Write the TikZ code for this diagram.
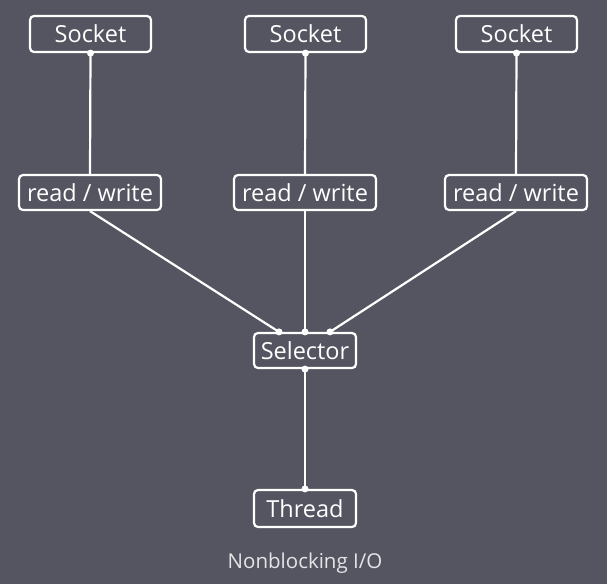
\documentclass[tikz,border=0pt]{standalone}
\usepackage{fontspec}
\setmainfont{Open Sans}
\definecolor{bg}{HTML}{545560}
\begin{document}
\begin{tikzpicture}[x=1pt,y=-1pt,
  box/.style={draw=white,line width=2.2pt,rounded corners=4pt,fill=bg,text=white,font=\fontsize{23.5}{27}\selectfont,inner sep=0pt,anchor=center},
  ln/.style={white,line width=2.2pt},
  dot/.style={circle,fill=white,inner sep=0pt,minimum size=7pt}]
\fill[bg] (0,0) rectangle (607,584);
\useasboundingbox (0,0) rectangle (607,584);
\node[box,minimum width=121pt,minimum height=36pt] (s1) at (90.5,34) {Socket};
\node[box,minimum width=121pt,minimum height=36pt] (s2) at (305.5,34) {Socket};
\node[box,minimum width=121pt,minimum height=36pt] (s3) at (516.5,34) {Socket};
\node[box,minimum width=142pt,minimum height=35pt] (r1) at (90,192.5) {read / write};
\node[box,minimum width=142pt,minimum height=35pt] (r2) at (305,192.5) {read / write};
\node[box,minimum width=142pt,minimum height=35pt] (r3) at (516,192.5) {read / write};
\node[box,minimum width=102pt,minimum height=35pt] (sel) at (305,350.5) {Selector};
\node[box,minimum width=102pt,minimum height=37pt] (th) at (305,508.5) {Thread};
\node[text=white!85!bg,font=\fontsize{20.5}{24}\selectfont] (cap) at (305,563) {Nonblocking I/O};
\coordinate (a) at ([xshift=-26pt]sel.north);
\coordinate (c) at ([xshift=25pt]sel.north);
\foreach \s/\r in {s1/r1,s2/r2,s3/r3}{
  \draw[ln] (\s.south) -- (\r.north);
  \node[dot] at (\s.south) {};}
\draw[ln] (r1.south) -- (a);
\draw[ln] (r2.south) -- (sel.north);
\draw[ln] (r3.south) -- (c);
\draw[ln] (sel.south) -- (th.north);
\foreach \p in {a,sel.north,c,sel.south,th.north} \node[dot] at (\p) {};
\end{tikzpicture}
\end{document}
